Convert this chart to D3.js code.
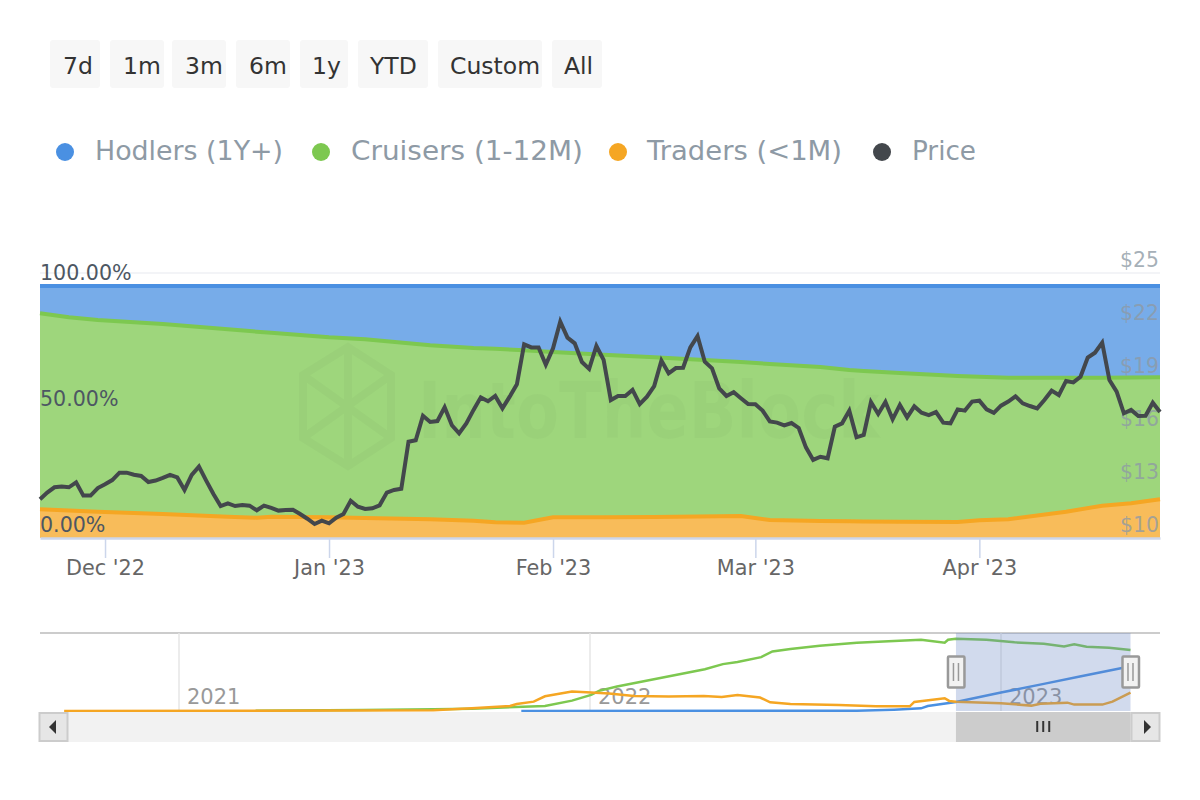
<!DOCTYPE html>
<html>
<head>
<meta charset="utf-8">
<title>Holders by time held</title>
<script src="https://cdn.jsdelivr.net/npm/d3@7"></script>
<style>
  html, body { margin: 0; background: #fff; }
  svg { display: block; font-family: "DejaVu Sans", sans-serif; }
</style>
</head>
<body>
<svg id="chart" width="1200" height="800"></svg>
<script>
'use strict'

var rangeLabels = ['7d', '1m', '3m', '6m', '1y', 'YTD', 'Custom', 'All']
var seriesNames = ['Hodlers (1Y+)', 'Cruisers (1-12M)', 'Traders (<1M)', 'Price']
var monthTicks = ['2022-12-01', '2023-01-01', '2023-02-01', '2023-03-01', '2023-04-01']
var priceTicks = [10, 13, 16, 19, 22, 25]
var shareTicks = [0, 50, 100]
var yearTicks = ['2021-01-01', '2022-01-01', '2023-01-01']

// daily price, first value is 22 Nov 2022
var priceStart = '2022-11-22'
var price = [
  12.19, 12.57, 12.87, 12.91, 12.87, 13.15, 12.40, 12.40, 12.83, 13.04, 13.28, 13.70, 13.70,
  13.58, 13.51, 13.17, 13.25, 13.40, 13.57, 13.43, 12.72, 13.57, 14.04, 13.25, 12.49, 11.81,
  11.96, 11.81, 11.87, 11.83, 11.57, 11.83, 11.70, 11.55, 11.58, 11.60, 11.36, 11.09, 10.79,
  10.98, 10.83, 11.15, 11.36, 12.11, 11.77, 11.64, 11.68, 11.85, 12.57, 12.72, 12.79, 15.45,
  15.53, 16.92, 16.57, 16.62, 17.40, 16.38, 15.92, 16.49, 17.25, 17.96, 17.74, 18.04, 17.34,
  18.00, 18.70, 20.96, 20.79, 20.79, 19.81, 20.74, 22.25, 21.34, 21.02, 19.96, 19.57, 20.87,
  20.08, 17.81, 18.04, 18.04, 18.38, 17.58, 18.00, 18.60, 20.04, 19.32, 19.62, 19.64, 20.79,
  21.43, 19.98, 19.60, 18.47, 18.04, 18.25, 17.91, 17.58, 17.57, 17.21, 16.60, 16.53, 16.38,
  16.51, 16.23, 15.13, 14.42, 14.60, 14.51, 16.30, 16.49, 17.21, 15.70, 15.83, 17.70, 17.02,
  17.70, 16.72, 17.53, 16.83, 17.45, 17.09, 16.96, 17.13, 16.53, 16.49, 17.28, 17.21, 17.72,
  17.77, 17.28, 17.08, 17.49, 17.72, 18.02, 17.62, 17.47, 17.34, 17.81, 18.34, 18.09, 18.89,
  18.81, 19.13, 20.21, 20.49, 21.06, 18.94, 18.28, 17.06, 17.25, 16.91, 16.92, 17.66, 17.13
]

// shares in percent, read at these day offsets from priceStart
var shareDays = [0, 4, 8, 17, 26, 30, 32, 40, 45, 54, 60, 63, 67, 71, 78, 85, 97, 101, 108, 112, 114, 119, 127, 130, 134, 142, 147, 151, 155]
var tradersShare = [11.38, 10.90, 10.45, 9.52, 8.47, 8.07, 8.47, 8.20, 7.94, 7.41, 6.88, 6.22, 6.08, 8.20, 8.27, 8.33, 8.73, 7.14, 6.75, 6.60, 6.55, 6.48, 6.35, 7.01, 7.41, 10.45, 12.83, 13.76, 15.34]
var cruisersShare = [77.77, 76.67, 76.06, 75.40, 74.33, 73.81, 73.01, 71.43, 70.90, 69.05, 68.52, 68.91, 68.39, 65.61, 64.48, 63.36, 61.11, 61.91, 61.11, 60.07, 59.72, 59.00, 57.94, 57.01, 56.21, 53.17, 50.79, 49.93, 48.42]
var hodlersShare = [10.85, 12.43, 13.49, 15.08, 17.20, 18.12, 18.52, 20.37, 21.16, 23.54, 24.60, 24.87, 25.53, 26.19, 27.25, 28.31, 30.16, 30.95, 32.14, 33.33, 33.73, 34.52, 35.71, 35.98, 36.38, 36.38, 36.38, 36.31, 36.24]

// navigator series, relative to the top of the navigator
var navTradersDates = ['2020-09-21', '2021-03-10', '2021-08-15', '2021-09-18', '2021-10-22', '2021-10-28', '2021-11-12', '2021-11-22', '2021-12-16', '2022-01-02', '2022-01-18', '2022-02-09', '2022-03-12', '2022-04-12', '2022-04-28', '2022-05-12', '2022-06-01', '2022-06-10', '2022-06-28', '2022-08-10', '2022-09-12', '2022-10-12', '2022-10-16', '2022-11-12', '2022-11-16', '2022-11-22', '2023-01-01', '2023-01-28', '2023-02-05', '2023-03-01', '2023-03-07', '2023-04-01', '2023-04-10', '2023-04-26']
var navTraders = [0, 0.4, 0.9, 3.4, 6.4, 9.0, 12.0, 18.9, 24.9, 23.6, 22.3, 19.3, 18.5, 19.3, 18.0, 20.6, 17.2, 11.2, 9.0, 7.7, 6.0, 6.0, 11.6, 16.3, 12.9, 12.0, 9.9, 6.9, 9.4, 10.7, 8.2, 8.2, 12.0, 23.6]
var navCruisersDates = ['2021-03-10', '2021-06-13', '2021-08-15', '2021-09-18', '2021-11-22', '2021-12-16', '2022-01-02', '2022-01-09', '2022-01-25', '2022-04-13', '2022-04-29', '2022-05-12', '2022-06-02', '2022-06-12', '2022-06-28', '2022-07-24', '2022-08-26', '2022-09-28', '2022-10-22', '2022-11-12', '2022-11-15', '2022-11-22', '2022-12-19', '2023-01-13', '2023-02-08', '2023-02-26', '2023-03-07', '2023-03-18', '2023-04-07', '2023-04-26']
var navCruisers = [0.4, 1.3, 2.1, 3.0, 6.4, 13.3, 20.6, 25.8, 31.3, 53.6, 60.1, 62.7, 69.1, 76.4, 79.4, 83.7, 87.6, 89.7, 91.4, 87.6, 91.4, 92.7, 91.4, 88.0, 86.3, 82.8, 85.4, 82.4, 81.1, 78.1]
var navHodlersDates = ['2021-11-01', '2022-07-01', '2022-08-26', '2022-09-28', '2022-10-22', '2022-10-28', '2022-11-22', '2023-01-01', '2023-02-08', '2023-03-12', '2023-04-24']
var navHodlers = [0, 0.2, 0.4, 1.7, 3.4, 6.4, 11.6, 23.6, 34.8, 44.2, 56.7]

var colors = { hodlers: '#4a90e2', cruisers: '#7dc850', traders: '#f5a623', price: '#43474c' }

var svg = d3.select('#chart')
var parseDay = d3.utcParse('%Y-%m-%d')
var startDate = parseDay(priceStart)
var dayToDate = function (n) { return d3.utcDay.offset(startDate, n) }

var plot = { left: 40, right: 1160, top: 286, bottom: 538, priceTop: 273 }
var nav = { top: 633, bottom: 711 }

var x = d3.scaleUtc().domain([startDate, dayToDate(155)]).range([plot.left, plot.right])
var yShare = d3.scaleLinear().domain([0, 100]).range([plot.bottom, plot.top])
var yPrice = d3.scaleLinear().domain([10, 25]).range([plot.bottom, plot.priceTop])

// range buttons
var buttonBoxes = [[50, 100, 63], [110, 164, 123], [172, 226, 185], [236, 290, 249], [300, 348, 312], [358, 428, 370], [438, 542, 450], [552, 602, 564]]
var buttons = svg.append('g').selectAll('g').data(rangeLabels).join('g')
buttons.append('rect')
  .attr('x', function (d, i) { return buttonBoxes[i][0] })
  .attr('width', function (d, i) { return buttonBoxes[i][1] - buttonBoxes[i][0] })
  .attr('y', 40).attr('height', 48).attr('rx', 3).attr('fill', '#f7f7f7')
buttons.append('text')
  .attr('x', function (d, i) { return buttonBoxes[i][2] })
  .attr('y', 74).attr('font-size', 23.5).attr('fill', '#333')
  .text(function (d) { return d })

// legend
var legendBoxes = [[65, 95, 188], [321, 351, 232], [618, 647, 195], [882, 912, 64]]
var legendColors = [colors.hodlers, colors.cruisers, colors.traders, colors.price]
var legend = svg.append('g').selectAll('g').data(seriesNames).join('g')
legend.append('circle')
  .attr('cx', function (d, i) { return legendBoxes[i][0] })
  .attr('cy', 152).attr('r', 9)
  .attr('fill', function (d, i) { return legendColors[i] })
legend.append('text')
  .attr('x', function (d, i) { return legendBoxes[i][1] })
  .attr('y', 160).attr('font-size', 26).attr('fill', '#8e9aa5')
  .attr('textLength', function (d, i) { return legendBoxes[i][2] })
  .attr('lengthAdjust', 'spacingAndGlyphs')
  .text(function (d) { return d })

// top grid line of the price axis, the others do not show through the areas
svg.append('line')
  .attr('x1', plot.left).attr('x2', plot.right)
  .attr('y1', yPrice(25)).attr('y2', yPrice(25))
  .attr('stroke', '#f3f4f7').attr('stroke-width', 2)

// stacked areas
var shareRows = shareDays.map(function (d, i) {
  return { date: dayToDate(d), traders: tradersShare[i], cruisers: cruisersShare[i], hodlers: hodlersShare[i] }
})
var stacked = d3.stack().keys(['traders', 'cruisers', 'hodlers'])(shareRows)
var area = d3.area()
  .x(function (d) { return x(d.data.date) })
  .y0(function (d) { return yShare(d[0]) })
  .y1(function (d) { return yShare(d[1]) })
var topLine = d3.line()
  .x(function (d) { return x(d.data.date) })
  .y(function (d) { return yShare(d[1]) })

var areas = svg.append('g')
areas.selectAll('path.fill').data(stacked).join('path')
  .attr('class', 'fill')
  .attr('d', area)
  .attr('fill', function (d) { return colors[d.key] })
  .attr('fill-opacity', 0.75)

// watermark
var mark = svg.append('g').attr('fill', 'none').attr('stroke', '#000').attr('stroke-opacity', 0.022).attr('stroke-width', 8)
mark.append('path').attr('d', 'M348 347L391 375V438L348 466L303 438V375Z M348 347V405 M303 375L391 438 M391 375L303 438 M348 405V466')
svg.append('text')
  .attr('x', 418).attr('y', 438).attr('font-size', 78).attr('font-weight', 'bold')
  .attr('textLength', 462).attr('lengthAdjust', 'spacingAndGlyphs')
  .attr('fill', '#000').attr('fill-opacity', 0.018)
  .text('IntoTheBlock')

areas.selectAll('path.top').data(stacked).join('path')
  .attr('class', 'top')
  .attr('d', topLine)
  .attr('fill', 'none')
  .attr('stroke', function (d) { return colors[d.key] })
  .attr('stroke-width', 4)

// x axis
var xAxis = d3.axisBottom(x)
  .tickValues(monthTicks.map(parseDay))
  .tickFormat(d3.utcFormat("%b '%y"))
  .tickSizeInner(20)
  .tickSizeOuter(0)
  .tickPadding(2)
var xAxisG = svg.append('g').attr('transform', 'translate(0,' + plot.bottom + ')').call(xAxis)
xAxisG.select('.domain').attr('stroke', '#ccd6eb').attr('stroke-width', 2.5)
xAxisG.selectAll('.tick line').attr('stroke', '#ccd6eb').attr('stroke-width', 1.5)
xAxisG.selectAll('.tick text').attr('fill', '#666').attr('font-size', 20.8).attr('font-family', '"DejaVu Sans"')

// share axis, labels sit above their grid lines
var shareAxis = d3.axisRight(yShare).tickValues(shareTicks).tickSize(0).tickPadding(0)
  .tickFormat(function (d) { return d3.format('.2f')(d) + '%' })
var shareAxisG = svg.append('g').attr('transform', 'translate(' + plot.left + ',-13)').call(shareAxis)
shareAxisG.select('.domain').remove()
shareAxisG.selectAll('.tick text').attr('fill', '#4d5763').attr('font-size', 20.6).attr('font-family', '"DejaVu Sans"')

// price axis
var priceAxis = d3.axisLeft(yPrice).tickValues(priceTicks).tickSize(0).tickPadding(0)
  .tickFormat(function (d) { return '$' + d })
var priceAxisG = svg.append('g').attr('transform', 'translate(1159,-13)').call(priceAxis)
priceAxisG.select('.domain').remove()
priceAxisG.selectAll('.tick text').attr('fill', '#8e9aa5').attr('fill-opacity', 0.8).attr('font-size', 20.4).attr('font-family', '"DejaVu Sans"')

// price line
var priceLine = d3.line()
  .x(function (d, i) { return x(dayToDate(i)) })
  .y(function (d) { return yPrice(d) })
svg.append('path')
  .attr('d', priceLine(price))
  .attr('fill', 'none')
  .attr('stroke', colors.price)
  .attr('stroke-width', 4)
  .attr('stroke-linejoin', 'miter')

// navigator
var xNav = d3.scaleUtc()
  .domain([parseDay(yearTicks[0]), parseDay(yearTicks[2])])
  .range([179, 1001])
var yNav = d3.scaleLinear().domain([0, 100]).range([nav.bottom, nav.top])

svg.append('line')
  .attr('x1', plot.left).attr('x2', plot.right).attr('y1', nav.top).attr('y2', nav.top)
  .attr('stroke', '#ccc').attr('stroke-width', 2)

var navYears = svg.append('g').selectAll('g').data(yearTicks.map(parseDay)).join('g')
navYears.append('line')
  .attr('x1', function (d) { return xNav(d) }).attr('x2', function (d) { return xNav(d) })
  .attr('y1', nav.top).attr('y2', nav.bottom)
  .attr('stroke', '#e6e6e6').attr('stroke-width', 1.5)
navYears.append('text')
  .attr('x', function (d) { return xNav(d) + 8 })
  .attr('y', 704).attr('font-size', 21).attr('fill', '#999')
  .text(d3.utcFormat('%Y'))

var navLine = d3.line()
  .x(function (d) { return xNav(d[0]) })
  .y(function (d) { return yNav(d[1]) })
var navSeries = [
  { color: colors.hodlers, dates: navHodlersDates, values: navHodlers },
  { color: colors.cruisers, dates: navCruisersDates, values: navCruisers },
  { color: colors.traders, dates: navTradersDates, values: navTraders }
]
svg.append('g').selectAll('path').data(navSeries).join('path')
  .attr('d', function (s) {
    return navLine(s.dates.map(function (d, i) { return [parseDay(d), s.values[i]] }))
  })
  .attr('fill', 'none')
  .attr('stroke', function (s) { return s.color })
  .attr('stroke-width', 2.5)

// selected range
var selLeft = xNav(startDate)
var selRight = xNav(dayToDate(155))
svg.append('rect')
  .attr('x', selLeft).attr('width', selRight - selLeft)
  .attr('y', nav.top).attr('height', nav.bottom - nav.top)
  .attr('fill', '#6685c2').attr('fill-opacity', 0.3)

// scrollbar
var scroll = svg.append('g')
scroll.append('rect').attr('x', 39).attr('y', 712).attr('width', 1121).attr('height', 30).attr('fill', '#f2f2f2')
scroll.append('rect').attr('x', selLeft).attr('y', 712).attr('width', selRight - selLeft).attr('height', 30).attr('fill', '#ccc')
;[39.5, selRight + 1].forEach(function (bx) {
  scroll.append('rect').attr('x', bx).attr('y', 713).attr('width', 28).attr('height', 28)
    .attr('fill', '#e6e6e6').attr('stroke', '#ccc').attr('stroke-width', 2)
})
scroll.append('path').attr('d', 'M49 727L56 720V734Z').attr('fill', '#333')
scroll.append('path').attr('d', 'M1151 727L1144 720V734Z').attr('fill', '#333')
;[-6, 0, 6].forEach(function (dx) {
  var gx = (selLeft + selRight) / 2 + dx
  scroll.append('line').attr('x1', gx).attr('x2', gx).attr('y1', 721).attr('y2', 732)
    .attr('stroke', '#333').attr('stroke-width', 2)
})

// navigator handles
;[selLeft, selRight].forEach(function (hx) {
  var h = svg.append('g').attr('transform', 'translate(' + hx + ',672)')
  h.append('rect').attr('x', -8).attr('y', -15.5).attr('width', 16.5).attr('height', 31).attr('rx', 1)
    .attr('fill', '#f2f2f2').attr('stroke', '#999').attr('stroke-width', 2.5)
  h.append('path').attr('d', 'M-2.5 -9V9M2.5 -9V9').attr('stroke', '#999').attr('stroke-width', 1.5)
})
</script>
</body>
</html>
